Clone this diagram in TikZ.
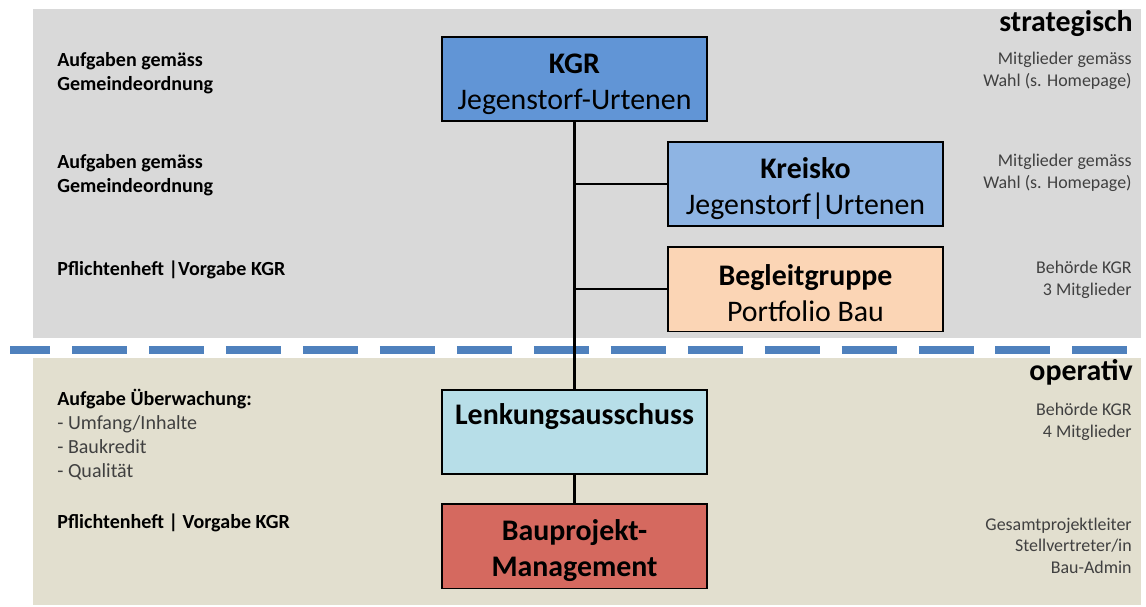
\documentclass[tikz,border=0pt]{standalone}
\usepackage{fontspec}
\setmainfont{Carlito}
\usepackage{xcolor}
\usetikzlibrary{positioning}

\definecolor{stratgray}{HTML}{D9D9D9}
\definecolor{opbeige}{HTML}{E2DFCF}
\definecolor{sepblue}{HTML}{4F81BD}
\definecolor{kgrblue}{HTML}{6195D6}
\definecolor{kreiskoblue}{HTML}{8EB4E3}
\definecolor{begleitorange}{HTML}{FBD5B5}
\definecolor{lenkcyan}{HTML}{B7DEE8}
\definecolor{baured}{HTML}{D5695F}
\definecolor{sidegray}{HTML}{404040}
\newcommand{\topstrut}{\rule{0pt}{1em}}

\begin{document}
\begin{tikzpicture}[x=0.02cm, y=-0.02cm,
    box/.style={draw, line width=0.9pt, minimum width=5.3cm, minimum height=1.69cm,
      align=center, inner sep=0pt, font=\fontsize{17}{20.5}\selectfont},
    link/.style={line width=1.5pt},
    lefttext/.style={anchor=base west, align=left, inner sep=0pt,
      font=\fontsize{11.4}{13.6}\selectfont\bfseries},
    righttext/.style={anchor=base east, align=right, inner sep=0pt, text=sidegray,
      font=\fontsize{10.2}{12.2}\selectfont},
    level/.style={anchor=base east, inner sep=0pt, font=\fontsize{17}{19}\selectfont\bfseries}]
 			\useasboundingbox (0,0) rectangle (1146,606);
 			\fill[stratgray] (33,9) rectangle (1141,338);
 			\fill[opbeige] (33,358) rectangle (1141,605);
 			\draw[sepblue, line width=4pt, dash pattern=on 31.3pt off 12.5pt, dash phase=8.5pt] (10,350) -- (1141,350);
 			
 			\node[box, fill=kgrblue] (kgr) at (574.5,79) {\topstrut\textbf{KGR}\\Jegenstorf-Urtenen};
 			\node[box, fill=kreiskoblue, minimum width=5.5cm] (kreisko) at (805.5,184) {\topstrut\textbf{Kreisko}\\Jegenstorf|Urtenen};
 			\node[box, fill=begleitorange, minimum width=5.5cm, below=0.38cm of kreisko] (begleit) {\topstrut\textbf{Begleitgruppe}\\Portfolio Bau};
 			\node[box, fill=lenkcyan, below=5.34cm of kgr] (lenk) {\textbf{Lenkungsausschuss}\\\mbox{}};
 			\node[box, fill=baured, below=0.56cm of lenk] (bau) {\topstrut\textbf{Bauprojekt-}\\\textbf{Management}};
 			
 			\draw[link] (kgr) -- (lenk);
 			\draw[link] (kreisko) -- (kreisko -| kgr);
 			\draw[link] (begleit) -- (begleit -| kgr);
 			\draw[link] (lenk) -- (bau);
 			
 			% level labels
 			\node[level] (s1) at (1133,31) {strategisch};
 			\node[level] (s2) at (1133,380) {operativ};
 			
 			% left side: tasks (anchored at last line)
 			\node[lefttext] (a1) at (57,90) {Aufgaben gemäss\\Gemeindeordnung};
 			\node[lefttext] (a2) at (57,192) {Aufgaben gemäss\\Gemeindeordnung};
 			\node[lefttext] (a3) at (57,275) {Pflichtenheft |Vorgabe KGR};
 			\node[lefttext] (a4) at (57,477) {Aufgabe Überwachung:\\\textcolor{sidegray}{\mdseries - Umfang/Inhalte}\\\textcolor{sidegray}{\mdseries - Baukredit}\\\textcolor{sidegray}{\mdseries - Qualität}};
 			\node[lefttext] (a5) at (57,528) {Pflichtenheft | Vorgabe KGR};
 			
 			% right side: members
 			\node[righttext] (b1) at (1132,86) {Mitglieder gemäss\\Wahl (s. Homepage)};
 			\node[righttext] (b2) at (1132,188) {Mitglieder gemäss\\Wahl (s. Homepage)};
 			\node[righttext] (b3) at (1132,295) {Behörde KGR\\3 Mitglieder};
 			\node[righttext] (b4) at (1132,437) {Behörde KGR\\4 Mitglieder};
 			\node[righttext] (b5) at (1132,573) {Gesamtprojektleiter\\Stellvertreter/in\\Bau-Admin};
 		\end{tikzpicture}
\end{document}
